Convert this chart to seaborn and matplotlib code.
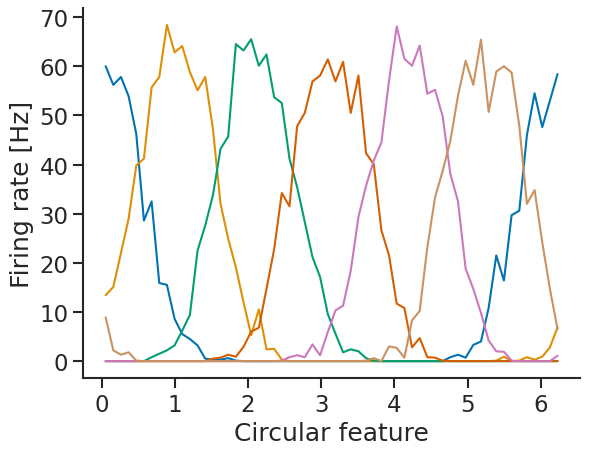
import numpy as np
import pandas as pd
import seaborn as sns
import matplotlib
matplotlib.use("Agg")
import matplotlib.pyplot as plt

# 60 bins of the circular feature (bin centres)
n_bins = 60
feature = (np.arange(n_bins) + 0.5) * 2 * np.pi / n_bins

# firing rates, one tuning curve per neuron
rate_0 = [60.0, 56.2, 57.8, 53.9, 46.2, 28.6, 32.5, 15.9, 15.5, 8.6,
          5.5, 4.5, 3.2, 0.5, 0.3, 0.3, 0.6, 0.1, 0, 0,
          0, 0, 0, 0, 0, 0, 0, 0, 0, 0,
          0, 0, 0, 0, 0, 0, 0, 0, 0, 0,
          0, 0, 0, 0, 0, 0.8, 1.3, 0.7, 3.3, 4.0,
          10.8, 21.5, 16.4, 29.7, 30.6, 46.0, 54.5, 47.6, 53.0, 58.4]
rate_1 = [13.4, 15.1, 22.0, 29.0, 39.8, 41.2, 55.7, 57.8, 68.4, 62.8,
          64.1, 58.8, 55.1, 57.8, 47.3, 32.0, 24.9, 19.1, 12.0, 5.3,
          10.5, 2.4, 2.5, 0.3, 0, 0, 0, 0, 0, 0,
          0, 0, 0, 0, 0, 0, 0, 0, 0, 0,
          0, 0, 0, 0, 0, 0, 0, 0, 0, 0,
          0, 0.1, 0.9, 0, 0.1, 0.8, 0.3, 0.9, 2.8, 6.9]
rate_2 = [0, 0, 0, 0, 0, 0, 0.8, 1.5, 2.2, 3.2,
          6.2, 9.4, 22.5, 27.6, 33.7, 43.2, 45.7, 64.5, 63.2, 65.5,
          60.1, 62.4, 53.7, 52.5, 41.2, 35.4, 28.3, 21.2, 17.1, 9.6,
          5.6, 1.8, 2.4, 2.0, 0.6, 0.1, 0, 0, 0, 0,
          0, 0, 0, 0, 0, 0, 0, 0, 0, 0,
          0, 0, 0, 0, 0, 0, 0, 0, 0, 0]
rate_3 = [0, 0, 0, 0, 0, 0, 0, 0, 0, 0,
          0, 0, 0, 0, 0.5, 0.7, 1.3, 0.9, 2.9, 6.0,
          6.8, 14.7, 22.8, 34.2, 31.5, 47.8, 50.5, 56.9, 58.1, 61.4,
          56.9, 60.9, 50.5, 58.1, 42.3, 40.1, 26.6, 21.5, 11.7, 10.8,
          2.8, 4.7, 0.8, 0.7, 0.1, 0, 0, 0, 0, 0,
          0, 0, 0, 0, 0, 0, 0, 0, 0, 0]
rate_4 = [0, 0, 0, 0, 0, 0, 0, 0, 0, 0,
          0, 0, 0, 0, 0, 0, 0, 0, 0, 0,
          0, 0, 0, 0.1, 0.8, 1.2, 0.8, 3.4, 1.2, 5.9,
          10.3, 11.3, 18.4, 29.3, 35.7, 40.8, 44.5, 57.1, 68.1, 61.5,
          60.1, 64.2, 54.4, 55.2, 49.8, 38.1, 32.5, 18.8, 14.7, 9.8,
          4.2, 2.0, 1.9, 0.1, 0, 0, 0, 0, 0, 1.1]
rate_5 = [8.9, 2.2, 1.3, 1.8, 0.1, 0, 0, 0, 0, 0,
          0, 0, 0, 0, 0, 0, 0, 0, 0, 0,
          0, 0, 0, 0, 0, 0, 0, 0, 0, 0,
          0, 0, 0, 0, 0.1, 0.6, 0, 3.0, 2.7, 0.7,
          8.3, 10.2, 23.2, 33.3, 38.7, 44.8, 54.0, 61.1, 56.2, 65.4,
          50.7, 58.9, 60.0, 58.7, 47.9, 32.0, 34.8, 24.2, 14.7, 6.5]

rates = [rate_0, rate_1, rate_2, rate_3, rate_4, rate_5]
df = pd.concat(
    [pd.DataFrame({"feature": feature, "rate": r, "neuron": k})
     for k, r in enumerate(rates)],
    ignore_index=True,
)

sns.set_theme(context="talk", style="ticks")

fig = plt.figure(figsize=(5.89, 4.56), dpi=100)
ax = fig.add_axes([0.141, 0.169, 0.844, 0.811])
sns.lineplot(data=df, x="feature", y="rate", hue="neuron",
             palette="colorblind", linewidth=1.5, legend=False, ax=ax)
ax.set_xlabel("Circular feature")
ax.set_ylabel("Firing rate [Hz]")
ax.set_yticks(range(0, 71, 10))
ax.tick_params(length=7, width=1.5)
for s in ax.spines.values():
    s.set_linewidth(1.5)
sns.despine(ax=ax)

fig.savefig("out.png", dpi=100)
